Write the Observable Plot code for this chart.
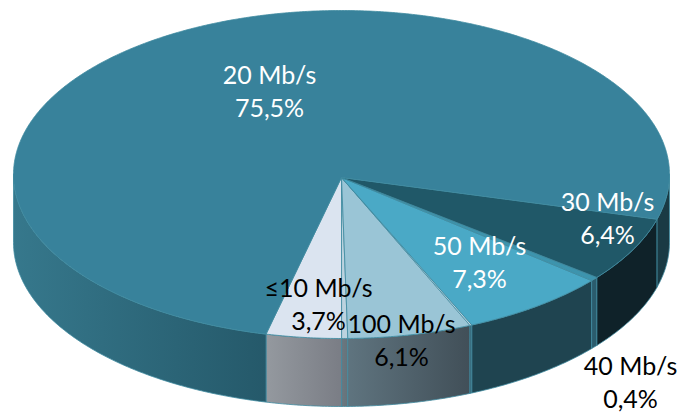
<!DOCTYPE html>
<html>
<head>
<meta charset="utf-8">
<style>html,body{margin:0;padding:0;background:#fff}svg{display:block}</style>
<script src="https://cdn.jsdelivr.net/npm/d3@7"></script>
<script src="https://cdn.jsdelivr.net/npm/@observablehq/plot@0.6"></script>
</head>
<body>
<script>
// Slices in drawing order, going counter-clockwise from the left edge of "≤10 Mb/s".
const categories = ["≤10 Mb/s", "", "100 Mb/s", "", "50 Mb/s", "40 Mb/s", "30 Mb/s", "20 Mb/s"];
const shares     = [3.7, 0.3, 6.1, 0.1, 7.3, 0.4, 6.4, 75.5];
const topColors  = ["#dbe4f0", "#bcd3df", "#9ac5d6", "#bcd3df", "#4aa9c6", "#3d94ad", "#205868", "#38829b"];
const wallLeft   = ["#94999f", "#6b7880", "#5f747f", "#39606e", "#1f4450", "#2b5c6d", "#0f2229", "#1a3a44"];
const wallRight  = ["#7a7d85", "#65727a", "#414f58", "#39606e", "#1f4450", "#2b5c6d", "#0f2229", "#1a3a44"];
const backWallLeft = "#36788c", backWallRight = "#25596a";
const labelColors = ["#000", null, "#000", null, "#fff", "#000", "#fff", "#fff"];

// Layout of the pie (in pixels of the picture) and of its hand-placed labels.
const W = 682, H = 414;
const pie = {cx: 341, cy: 174, rx: 328, ry: 164, depth: 68, apexY: 177, startDeg: 193.3};
const labelX = [318, null, 401, null, 479, 630, 607, 269];
const labelY = [302, null, 338, null, 260, 380, 216, 89];

const point = (deg, drop = 0) => {
  const a = deg * Math.PI / 180;
  return {x: pie.cx + pie.rx * Math.sin(a), y: pie.cy - pie.ry * Math.cos(a) + drop};
};
const arc = (a0, a1, drop = 0) => {
  const n = Math.max(2, Math.ceil(Math.abs(a1 - a0) * 2));
  return d3.range(n + 1).map(i => point(a0 + (a1 - a0) * i / n, drop));
};

// Angular extent of every slice, derived from its share; the last slice closes the circle.
let cursor = pie.startDeg;
const slices = categories.map((name, i) => {
  const a0 = cursor;
  const a1 = i === categories.length - 1 ? pie.startDeg - 360 : cursor - shares[i] / 100 * 360;
  cursor = a1;
  return {name, i, a0, a1};
});

const topPolygon = s => {
  const apex = {x: pie.cx, y: pie.apexY};
  return [apex, ...arc(s.a0, s.a1), apex];
};
const wallPolygon = (a0, a1) => {
  const top = arc(a0, a1), bottom = arc(a0, a1, pie.depth).reverse();
  return [...top, ...bottom, top[0]];
};

// Visible wall pieces: the front half of the disc only (angles 90..270).
const last = slices.length - 1;
const walls = slices.slice(0, last).map(s => ({
  id: "w" + s.i, l: wallLeft[s.i], r: wallRight[s.i], pts: wallPolygon(s.a0, s.a1)
}));
walls.push({id: "w-right", l: wallLeft[last], r: wallRight[last], pts: wallPolygon(90, slices[last].a0)});
walls.push({id: "w-left", l: backWallLeft, r: backWallRight, pts: wallPolygon(270, pie.startDeg)});

const defs = () => {
  const d = d3.create("svg:defs");
  walls.forEach(w => {
    const g = d.append("linearGradient").attr("id", w.id).attr("x1", 0).attr("x2", 1).attr("y1", 0).attr("y2", 0);
    g.append("stop").attr("offset", 0).attr("stop-color", w.l);
    g.append("stop").attr("offset", 1).attr("stop-color", w.r);
  });
  return d.node();
};

const edge = {stroke: "#3f8aa0", strokeWidth: 0.8, strokeLinejoin: "round"};
const labels = slices.filter(s => s.name).map(s => ({
  text: s.name + "\n" + shares[s.i].toFixed(1).replace(".", ",") + "%",
  x: labelX[s.i], y: labelY[s.i], color: labelColors[s.i]
}));

const chart = Plot.plot({
  width: W, height: H,
  margin: 0,
  x: {domain: [0, W], range: [0, W], axis: null},
  y: {domain: [0, H], range: [0, H], axis: null},
  marks: [
    defs,
    ...walls.map(w => Plot.line(w.pts, {x: "x", y: "y", fill: `url(#${w.id})`, ...edge})),
    ...slices.map(s => Plot.line(topPolygon(s), {x: "x", y: "y", fill: topColors[s.i], ...edge})),
    Plot.text(labels, {
      x: "x", y: "y", text: "text", fill: "color",
      fontFamily: "Lato", fontSize: 25, lineHeight: 1.32, textAnchor: "middle"
    })
  ]
});
document.body.appendChild(chart);
</script>
</body>
</html>
